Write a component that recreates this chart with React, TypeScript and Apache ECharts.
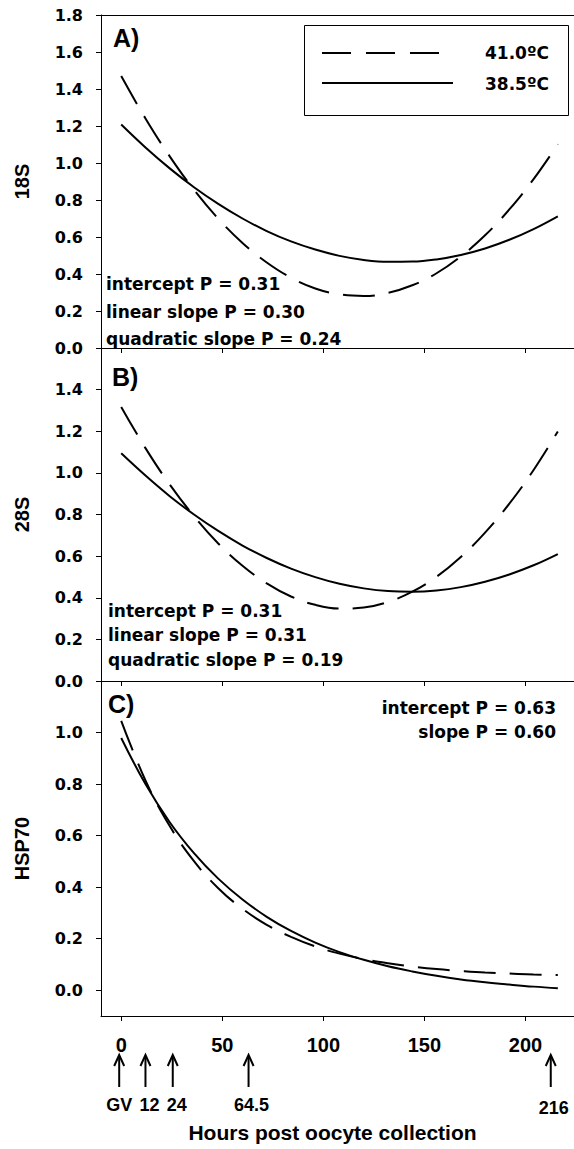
import React, { useEffect, useRef } from 'react';
import * as echarts from 'echarts';

// Hours post oocyte collection at which the fitted curves were read
const hours = [0, 12, 24, 36, 48, 60, 72, 84, 96, 108, 120, 132, 144, 156, 168, 180, 192, 204, 216];

// Panel A – 18S
const a41 = [1.470, 1.241, 1.036, 0.855, 0.699, 0.568, 0.462, 0.380, 0.322, 0.290, 0.281, 0.298, 0.339, 0.404, 0.495, 0.609, 0.749, 0.913, 1.101];
const a385 = [1.208, 1.084, 0.971, 0.869, 0.779, 0.700, 0.632, 0.576, 0.532, 0.498, 0.476, 0.466, 0.467, 0.479, 0.503, 0.538, 0.585, 0.643, 0.712];

// Panel B – 28S
const b41 = [1.317, 1.119, 0.944, 0.792, 0.661, 0.554, 0.469, 0.406, 0.366, 0.348, 0.353, 0.380, 0.429, 0.501, 0.596, 0.713, 0.852, 1.014, 1.199];
const b385 = [1.094, 0.987, 0.888, 0.800, 0.721, 0.651, 0.591, 0.540, 0.499, 0.467, 0.445, 0.432, 0.429, 0.435, 0.451, 0.477, 0.512, 0.556, 0.610];

// Panel C – HSP70
const c41 = [1.045, 0.814, 0.637, 0.501, 0.396, 0.316, 0.254, 0.207, 0.170, 0.142, 0.121, 0.105, 0.092, 0.082, 0.075, 0.069, 0.065, 0.061, 0.059];
const c385 = [0.979, 0.800, 0.652, 0.532, 0.433, 0.352, 0.285, 0.230, 0.185, 0.148, 0.118, 0.093, 0.073, 0.056, 0.042, 0.031, 0.022, 0.014, 0.008];

// Ticks
const xTicks = [0, 50, 100, 150, 200];
const yTicksA = [0, 0.2, 0.4, 0.6, 0.8, 1.0, 1.2, 1.4, 1.6, 1.8];
const yTicksB = [0, 0.2, 0.4, 0.6, 0.8, 1.0, 1.2, 1.4];
const yTicksC = [0, 0.2, 0.4, 0.6, 0.8, 1.0];

// Sampling-time arrows under the x axis (hours where drawn) and their labels
const arrowAt = [-1, 12, 25.5, 63, 212.5];
const arrowLabelAt = [-1, 14, 27.5, 64.5, 214];
const arrowLabels = ['GV', '12', '24', '64.5', '216'];

const seriesNames = ['41.0ºC', '38.5ºC'];
const statsA = ['intercept P = 0.31', 'linear slope P = 0.30', 'quadratic slope P = 0.24'];
const statsB = ['intercept P = 0.31', 'linear slope P = 0.31', 'quadratic slope P = 0.19'];
const statsC = ['intercept P = 0.63', 'slope P = 0.60'];

const ARIAL = 'Liberation Sans, Arial, sans-serif';
const DEJAVU = 'DejaVu Sans, sans-serif';
const DASH = [32, 14];

const pairs = (ys: number[]) => hours.map((h, i) => [h, ys[i]]);

const mkX = (gi: number, labels: boolean, extra: any = {}) => ({
  type: 'value',
  gridIndex: gi,
  min: -10,
  max: 224,
  position: 'bottom',
  axisLine: { show: true, onZero: false, lineStyle: { color: '#000', width: 1 } },
  axisTick: { show: true, length: 5, customValues: xTicks, lineStyle: { color: '#000', width: 1 } },
  axisLabel: {
    show: labels,
    customValues: xTicks,
    margin: 19,
    fontFamily: ARIAL,
    fontWeight: 'bold',
    fontSize: 20,
    color: '#000',
  },
  splitLine: { show: false },
  ...extra,
});

const mkY = (gi: number, min: number, max: number, ticks: number[], name: string) => ({
  type: 'value',
  gridIndex: gi,
  min,
  max,
  axisLine: { show: true, onZero: false, lineStyle: { color: '#000', width: 1 } },
  axisTick: { show: true, length: 5, customValues: ticks, lineStyle: { color: '#000', width: 1 } },
  axisLabel: {
    customValues: ticks,
    formatter: (v: number) => v.toFixed(1),
    margin: 18,
    fontFamily: DEJAVU,
    fontWeight: 'bold',
    fontSize: 16,
    color: '#000',
  },
  splitLine: { show: false },
  name,
  nameLocation: 'middle',
  nameGap: 69,
  nameTextStyle: { fontFamily: ARIAL, fontWeight: 'bold', fontSize: 20, color: '#000' },
});

const mkLine = (name: string, gi: number, ys: number[], dashed: boolean) => ({
  type: 'line',
  name,
  xAxisIndex: gi === 0 ? 0 : gi + 1,
  yAxisIndex: gi,
  data: pairs(ys),
  smooth: 0.4,
  showSymbol: false,
  symbol: 'none',
  lineStyle: { color: '#000', width: 2, type: dashed ? DASH : 'solid' },
  z: 3,
});

const txt = (text: string, x: number, y: number, size: number, family: string, align = 'left') => ({
  type: 'text',
  x,
  y,
  z: 10,
  style: {
    text,
    fill: '#000',
    fontSize: size,
    fontFamily: family,
    fontWeight: 'bold',
    align,
    verticalAlign: 'middle',
  },
});

export default function App() {
  const ref = useRef<HTMLDivElement>(null);

  useEffect(() => {
    if (!ref.current) return;
    const chart = echarts.init(ref.current, undefined, { renderer: 'svg' });

    const option: any = {
      animation: false,
      backgroundColor: '#fff',
      grid: [
        { left: 101, right: 0, top: 15, height: 333 },
        { left: 101, right: 0, top: 348, height: 333 },
        { left: 101, right: 0, top: 681, height: 335 },
      ],
      xAxis: [
        mkX(0, false),
        {
          type: 'value',
          gridIndex: 0,
          min: -10,
          max: 224,
          position: 'top',
          axisLine: { show: true, onZero: false, lineStyle: { color: '#000', width: 1 } },
          axisTick: { show: false },
          axisLabel: { show: false },
          splitLine: { show: false },
        },
        mkX(1, false),
        mkX(2, true, {
          name: 'Hours post oocyte collection',
          nameLocation: 'middle',
          nameGap: 106,
          nameTextStyle: {
            fontFamily: ARIAL,
            fontWeight: 'bold',
            fontSize: 21,
            color: '#000',
            padding: [0, 10, 0, 0],
          },
        }),
      ],
      yAxis: [
        mkY(0, 0, 1.8, yTicksA, '18S'),
        mkY(1, 0, 1.6, yTicksB, '28S'),
        mkY(2, -0.1, 1.2, yTicksC, 'HSP70'),
      ],
      series: [
        mkLine(seriesNames[0], 0, a41, true),
        mkLine(seriesNames[1], 0, a385, false),
        mkLine(seriesNames[0], 1, b41, true),
        mkLine(seriesNames[1], 1, b385, false),
        mkLine(seriesNames[0], 2, c41, true),
        mkLine(seriesNames[1], 2, c385, false),
      ],
    };
    chart.setOption(option);

    const graphic: any[] = [];
    // panel letters
    graphic.push(txt('A)', 113, 37.5, 25, ARIAL));
    graphic.push(txt('B)', 112, 376.5, 25, ARIAL));
    graphic.push(txt('C)', 108, 704, 25, ARIAL));
    // statistics
    const yA = [284, 311.5, 339];
    statsA.forEach((s, i) => graphic.push(txt(s, 106, yA[i], 17, DEJAVU)));
    const yB = [610.5, 635, 660];
    statsB.forEach((s, i) => graphic.push(txt(s, 108, yB[i], 17, DEJAVU)));
    const yC = [707.5, 732];
    statsC.forEach((s, i) => graphic.push(txt(s, 556, yC[i], 17, DEJAVU, 'right')));
    // legend
    graphic.push({
      type: 'rect',
      z: 9,
      shape: { x: 304.5, y: 25.5, width: 264, height: 90 },
      style: { fill: '#fff', stroke: '#000', lineWidth: 1 },
    });
    graphic.push({
      type: 'line',
      z: 10,
      shape: { x1: 322, y1: 53, x2: 440, y2: 53 },
      style: { stroke: '#000', lineWidth: 2, lineDash: [29, 15] },
    });
    graphic.push({
      type: 'line',
      z: 10,
      shape: { x1: 322, y1: 83, x2: 453, y2: 83 },
      style: { stroke: '#000', lineWidth: 2 },
    });
    graphic.push(txt(seriesNames[0], 549, 53, 17, DEJAVU, 'right'));
    graphic.push(txt(seriesNames[1], 549, 83.5, 17, DEJAVU, 'right'));

    // arrows
    arrowAt.forEach((h, i) => {
      const px = chart.convertToPixel({ xAxisIndex: 3 }, h) as number;
      const lx = chart.convertToPixel({ xAxisIndex: 3 }, arrowLabelAt[i]) as number;
      graphic.push({
        type: 'line',
        z: 10,
        shape: { x1: px, y1: 1056, x2: px, y2: 1087 },
        style: { stroke: '#000', lineWidth: 2 },
      });
      graphic.push({
        type: 'polyline',
        z: 10,
        shape: { points: [[px - 5, 1066], [px, 1055], [px + 5, 1066]] },
        style: { stroke: '#000', lineWidth: 2, fill: null },
      });
      graphic.push(txt(arrowLabels[i], lx, i === 4 ? 1108 : 1105, 18, ARIAL, 'center'));
    });

    chart.setOption({ graphic });

    return () => chart.dispose();
  }, []);

  return (
    <div
      ref={ref}
      style={{ position: 'absolute', left: 0, top: 0, width: 574, height: 1149 }}
    />
  );
}
